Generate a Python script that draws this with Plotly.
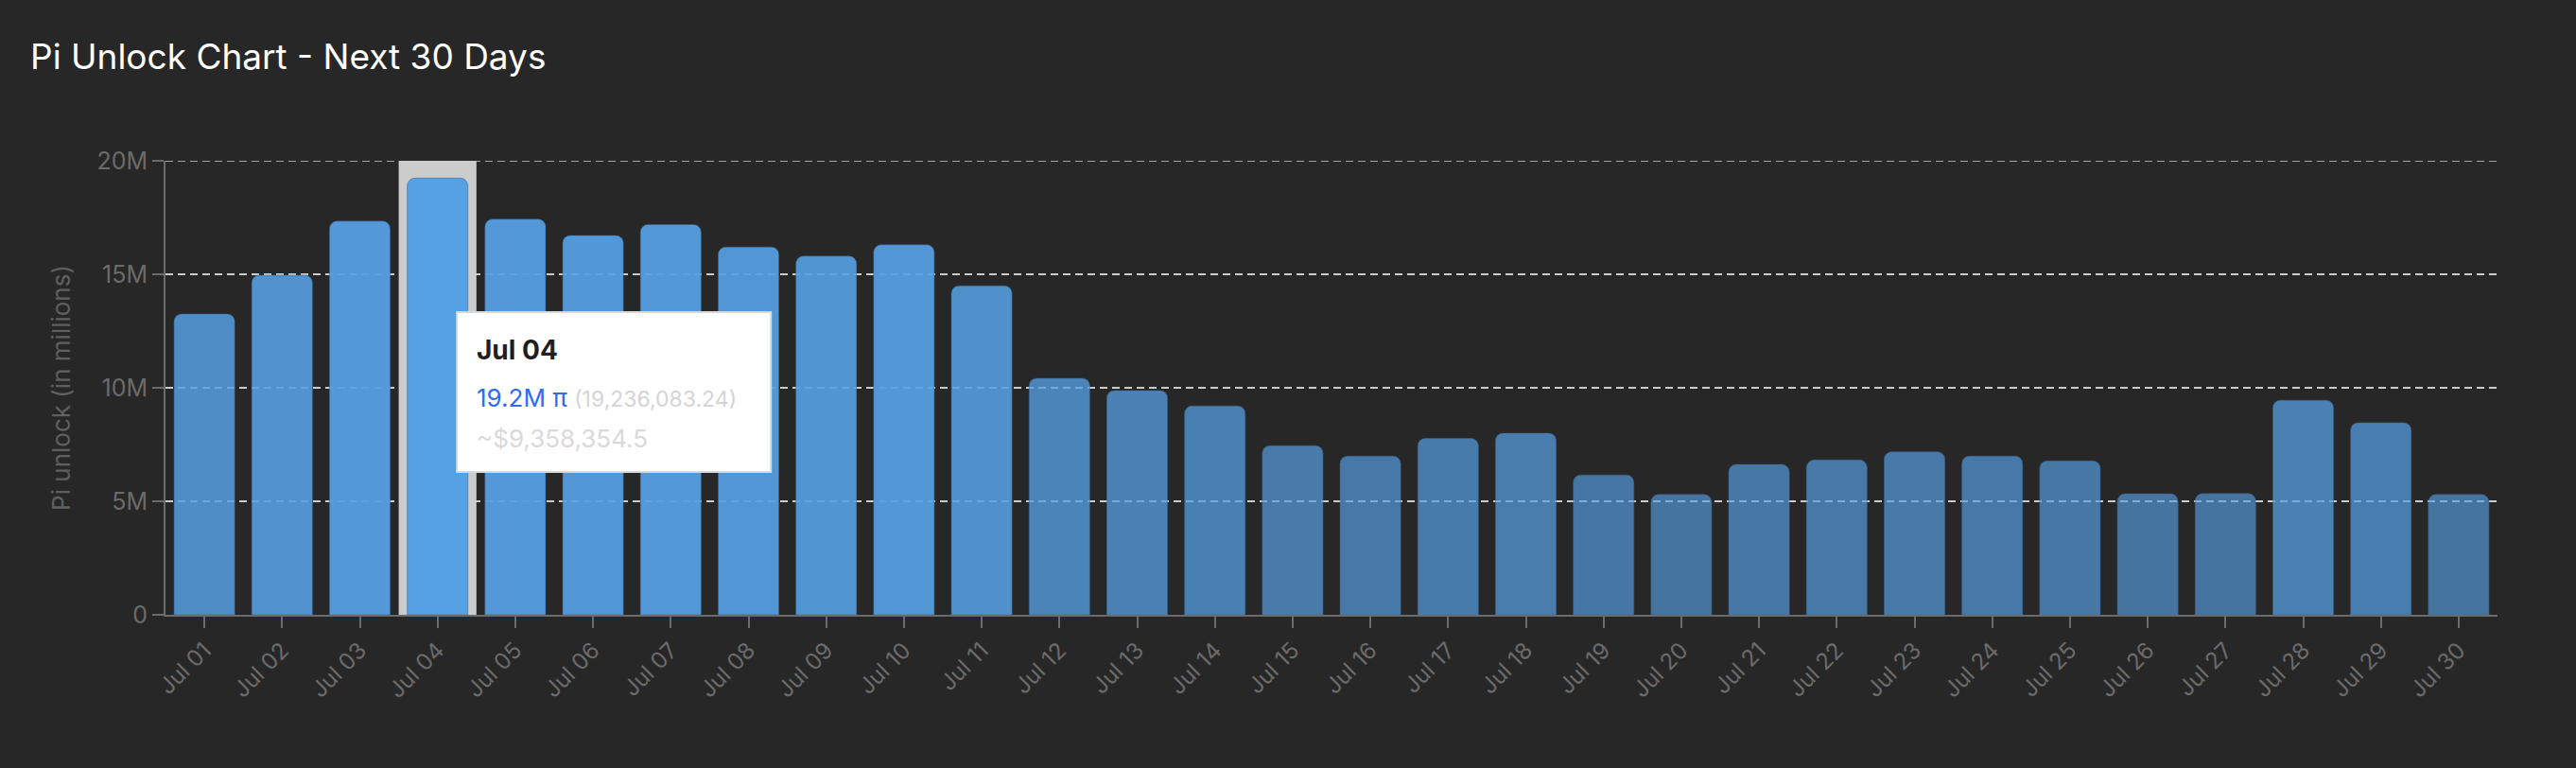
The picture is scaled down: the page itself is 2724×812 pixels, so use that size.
import plotly.graph_objects as go

# ---- data ----
days = ["Jul 01", "Jul 02", "Jul 03", "Jul 04", "Jul 05", "Jul 06", "Jul 07", "Jul 08",
        "Jul 09", "Jul 10", "Jul 11", "Jul 12", "Jul 13", "Jul 14", "Jul 15", "Jul 16",
        "Jul 17", "Jul 18", "Jul 19", "Jul 20", "Jul 21", "Jul 22", "Jul 23", "Jul 24",
        "Jul 25", "Jul 26", "Jul 27", "Jul 28", "Jul 29", "Jul 30"]
unlock_millions = [13.25, 14.96, 17.34, 19.23608324, 17.43, 16.71, 17.19, 16.20,
                   15.80, 16.30, 14.49, 10.42, 9.88, 9.20, 7.45, 6.99,
                   7.77, 8.00, 6.16, 5.30, 6.62, 6.82, 7.18, 6.99,
                   6.78, 5.33, 5.34, 9.45, 8.46, 5.30]
y_tick_vals = [0, 5e6, 10e6, 15e6, 20e6]
y_tick_text = ["0", "5M", "10M", "15M", "20M"]
hover_day = "Jul 04"
hover_exact_value = 19236083.24
pi_price_usd = 0.4865

values = [v * 1e6 for v in unlock_millions]
hover_idx = days.index(hover_day)

BG = "#272727"
BASE = (86, 160, 228)
vmax = max(values)
colors = []
for i, v in enumerate(values):
    a = 1.0 if i == hover_idx else 0.5 + 0.5 * v / vmax
    colors.append(f"rgba({BASE[0]},{BASE[1]},{BASE[2]},{a:.3f})")

GRID = dict(color="rgba(222,222,222,0.9)", width=1.5, dash="8px,5px")

fig = go.Figure()
fig.add_trace(go.Bar(
    x=days, y=values,
    marker=dict(color=colors, cornerradius=8,
                line=dict(color="rgba(60,100,140,0.5)", width=1)),
    hoverinfo="skip",
))

# top gridline (at the edge of the range)
fig.add_shape(type="line", xref="paper", yref="y", x0=0, x1=1,
              y0=y_tick_vals[-1], y1=y_tick_vals[-1], line=GRID, layer="between")

# hover highlight band
fig.add_shape(type="rect", xref="x", yref="y",
              x0=hover_idx - 0.5, x1=hover_idx + 0.5, y0=0, y1=y_tick_vals[-1],
              fillcolor="#cccccc", line=dict(width=0), layer="between")

# tooltip box
fig.add_shape(type="rect", xref="x", yref="y",
              xsizemode="pixel", ysizemode="pixel",
              xanchor=hover_idx, yanchor=0,
              x0=20.5, x1=352.5, y0=151, y1=320,
              fillcolor="#ffffff", line=dict(color="#d9d9d9", width=2), layer="above")

val = values[hover_idx]
short = f"{val/1e6:.1f}M π"
exact = f"({hover_exact_value:,.2f})"
usd = f"~${hover_exact_value * pi_price_usd:,.1f}"

ann_common = dict(xref="x", yref="y", x=hover_idx, y=0, xanchor="left", yanchor="middle",
                  showarrow=False, align="left", xshift=39.5)
fig.add_annotation(text=f"<b>{hover_day}</b>", yshift=280,
                   font=dict(family="Inter", size=28, color="#1f1f1f"), **ann_common)
fig.add_annotation(text=f"<span style='color:#2f6cf0'>{short}</span> "
                        f"<span style='font-size:23px;color:#d4d4d4'>{exact}</span>",
                   yshift=230, font=dict(family="Inter", size=26, color="#2f6cf0"), **ann_common)
fig.add_annotation(text=usd, yshift=187,
                   font=dict(family="Inter", size=26, color="#d9d9d9"), **ann_common)

fig.update_layout(
    width=2724, height=812,
    paper_bgcolor=BG, plot_bgcolor=BG,
    margin=dict(l=175, r=83, t=170, b=162),
    bargap=0.22,
    showlegend=False,
    font=dict(family="Inter", color="#6b6b6b"),
    title=dict(text="Pi Unlock Chart - Next 30 Days",
               font=dict(family="Inter", size=37, color="#ffffff"),
               x=32 / 2724, xref="container", xanchor="left",
               y=1 - 60 / 812, yref="container", yanchor="middle"),
    xaxis=dict(
        type="category",
        showgrid=False,
        showline=True, linecolor="#6b6b6b", linewidth=2,
        ticks="outside", ticklen=12, tickwidth=2, tickcolor="#6b6b6b",
        tickangle=-45,
        tickfont=dict(family="Inter", size=24, color="#6b6b6b"),
        fixedrange=True,
    ),
    yaxis=dict(
        range=[0, y_tick_vals[-1]],
        tickvals=y_tick_vals, ticktext=y_tick_text,
        showgrid=True, gridcolor=GRID["color"], gridwidth=GRID["width"], griddash=GRID["dash"],
        showline=True, linecolor="#6b6b6b", linewidth=2,
        ticks="outside", ticklen=12, tickwidth=2, tickcolor="#6b6b6b",
        tickfont=dict(family="Inter", size=25, color="#6b6b6b"),
        zeroline=False,
        title=dict(text="Pi unlock (in millions)", standoff=20,
                   font=dict(family="Inter", size=26, color="#5f5f5f")),
        fixedrange=True,
    ),
)

fig.write_html("out.html", config={"displayModeBar": False})

# remove the default page margin so the figure fills the window
with open("out.html", "r", encoding="utf-8") as f:
    html = f.read()
html = html.replace("<head>", "<head><style>html,body{margin:0;padding:0;background:#272727;overflow:hidden;}</style>", 1)
with open("out.html", "w", encoding="utf-8") as f:
    f.write(html)
